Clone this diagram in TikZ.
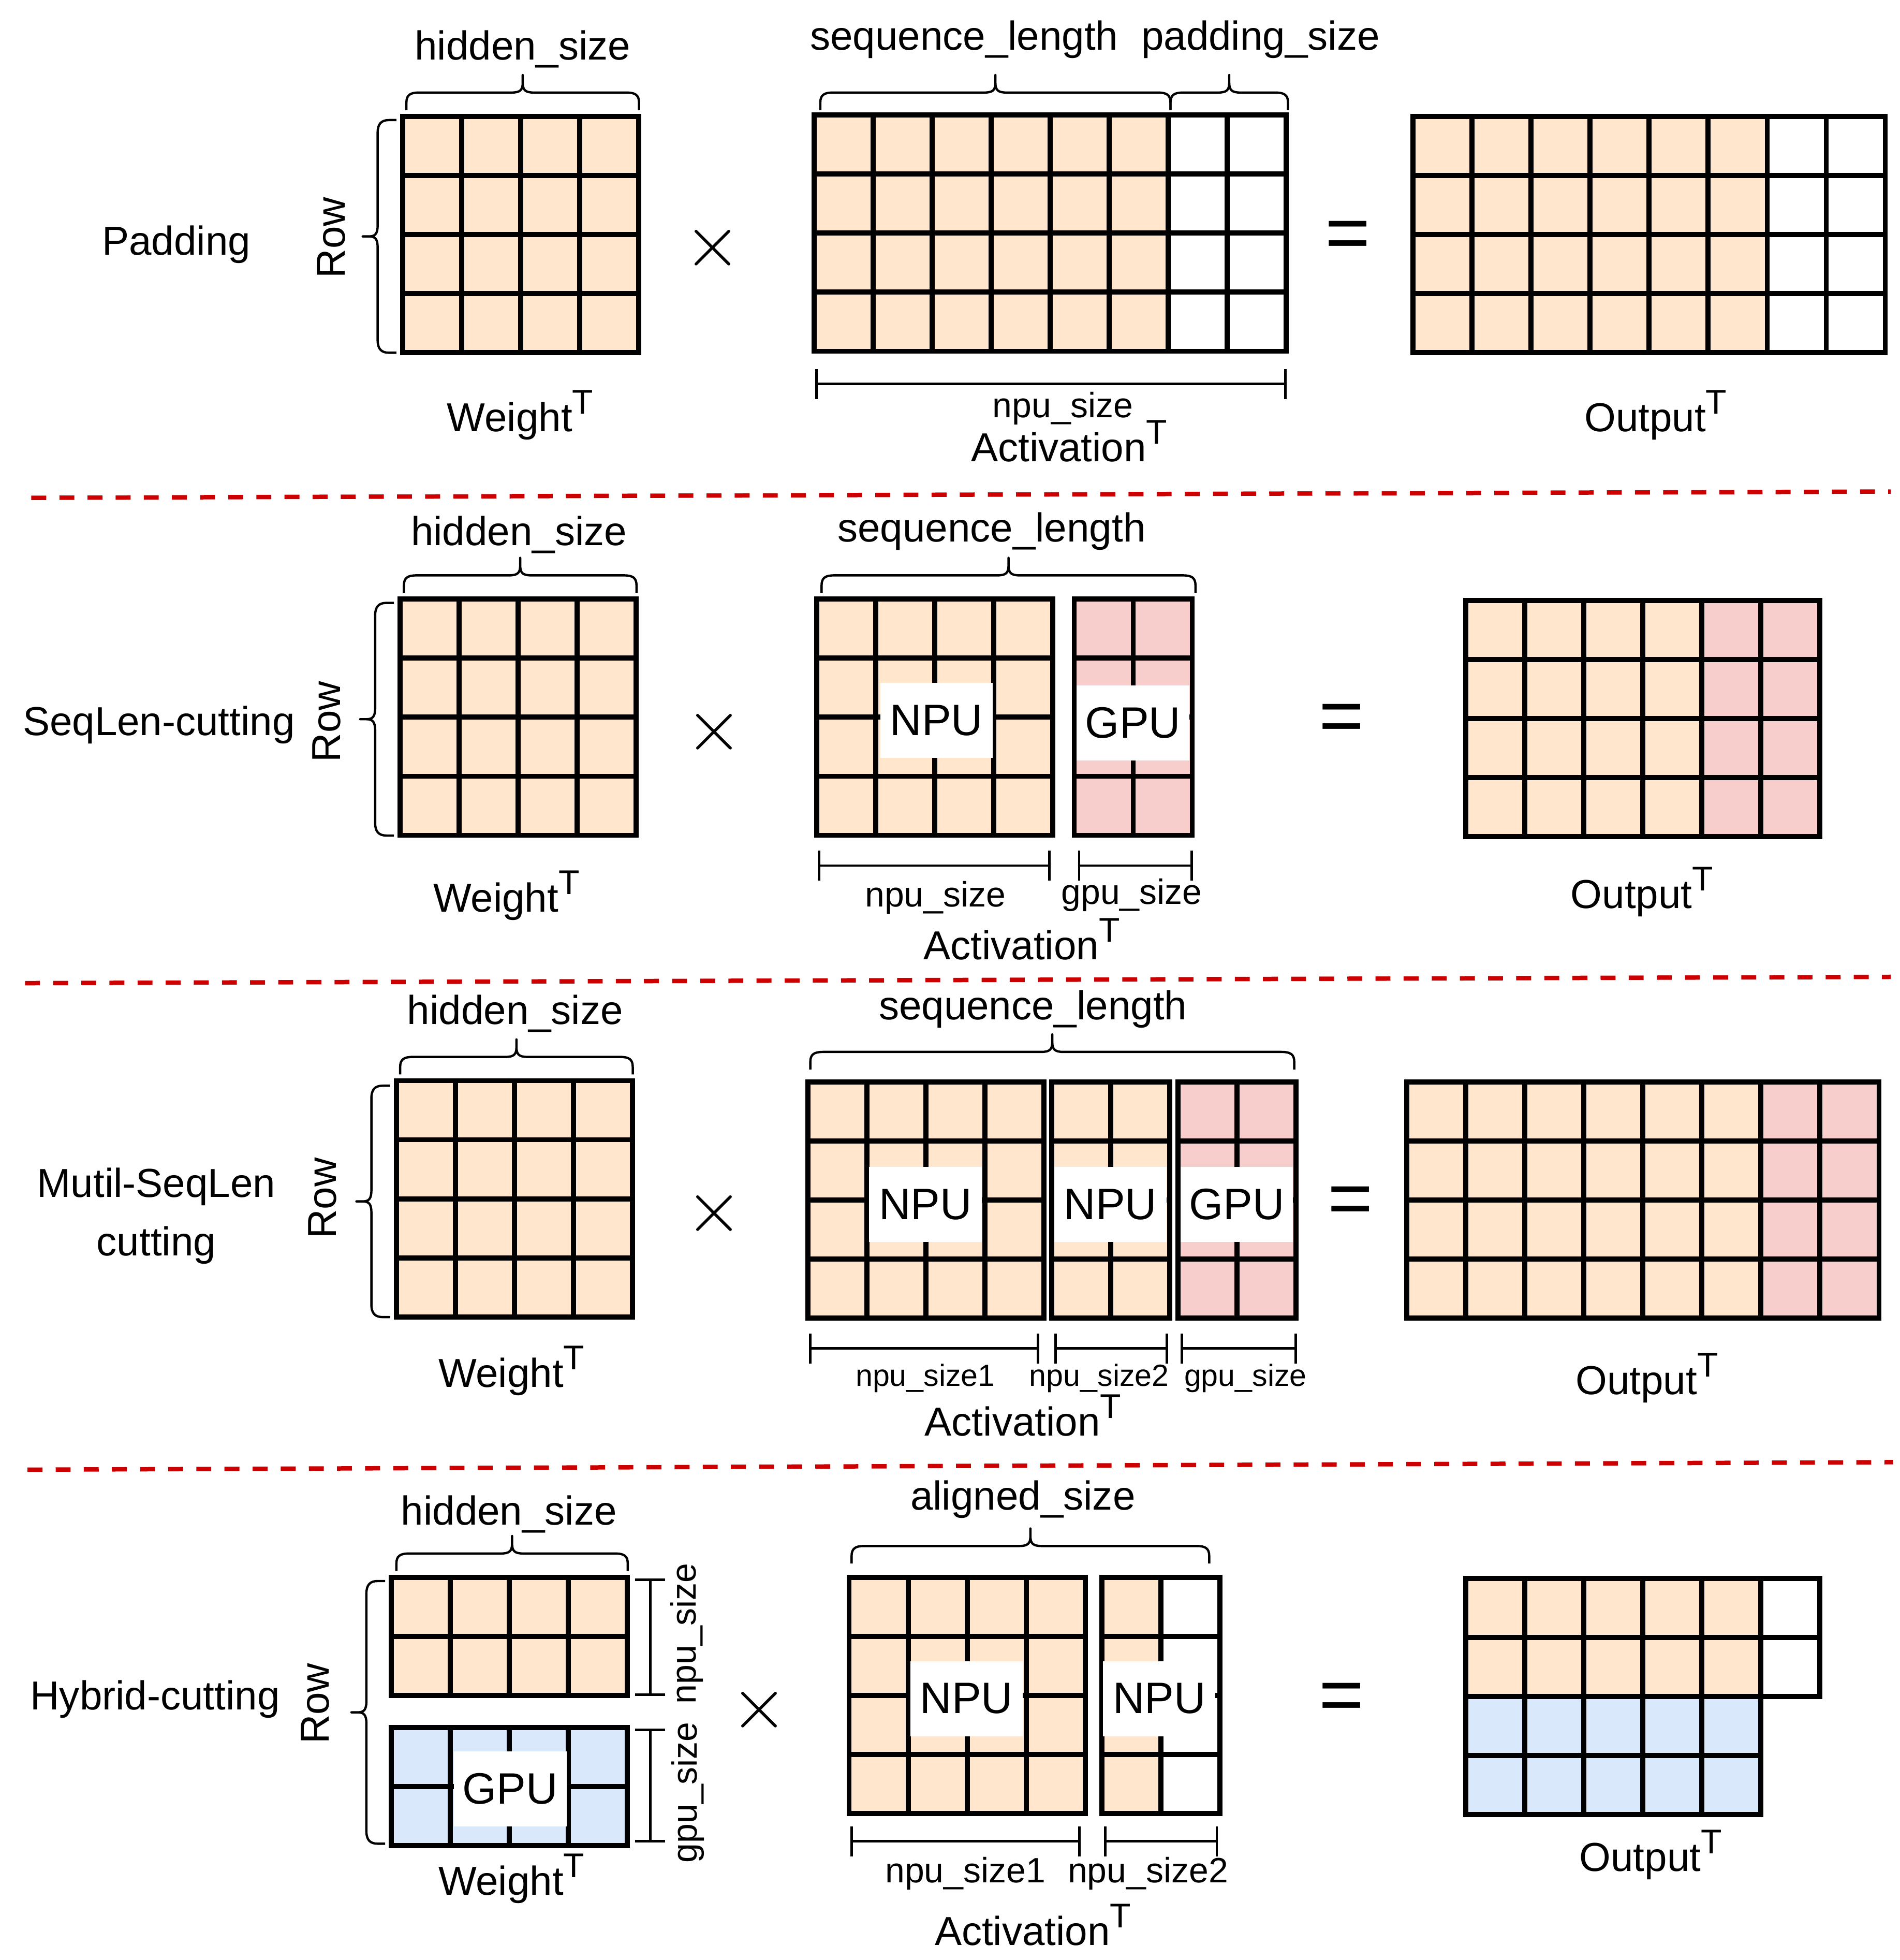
\RequirePackage{fix-cm}
\documentclass[tikz,border=0pt]{standalone}
\usepackage{fontspec}
\setmainfont{Liberation Sans}
\usepackage{tikz}
\usetikzlibrary{math}
\usetikzlibrary{arrows.meta}

\definecolor{npuorange}{HTML}{FFE6CC}
\definecolor{gpupink}{HTML}{F8CECC}
\definecolor{gpublue}{HTML}{DAE8FC}
\definecolor{cutred}{HTML}{CC0000}

% raised T of the transposed matrices
\newcommand{\tsup}{\raisebox{10pt}{\fontsize{19.5}{22}\selectfont T}}

% grid of cells: x0, y0, columns, rows, fill
\newcommand{\cellmat}[5]{%
  \foreach \ci in {1,...,#3}{
    \foreach \rj in {1,...,#4}{
      \draw[cellbox, fill=#5] ({#1+(\ci-1)*\cs},{#2+(\rj-1)*\cs}) rectangle ++(\cs,\cs);
    }
  }
}

% curly brace above a matrix: x left, x right, y of the feet
\newcommand{\topbrace}[3]{%
  \pgfmathsetmacro{\bmid}{(#1+#2)/2}
  \draw[brace] (#1,#3) -- (#1,#3-6)
    .. controls (#1,#3-12) and (#1+3,#3-14) .. (#1+10,#3-14)
    -- (\bmid-9,#3-14)
    .. controls (\bmid-2,#3-14) and (\bmid,#3-16) .. (\bmid,#3-22)
    -- (\bmid,#3-28) -- (\bmid,#3-22)
    .. controls (\bmid,#3-16) and (\bmid+2,#3-14) .. (\bmid+9,#3-14)
    -- (#2-10,#3-14)
    .. controls (#2-3,#3-14) and (#2,#3-12) .. (#2,#3-6)
    -- (#2,#3);
}

% curly brace left of a matrix: x of the feet, y top, y bottom
\newcommand{\leftbrace}[3]{%
  \pgfmathsetmacro{\bmid}{(#2+#3)/2}
  \draw[brace] (#1,#2) -- (#1-6,#2)
    .. controls (#1-12,#2) and (#1-15,#2+3) .. (#1-15,#2+10)
    -- (#1-15,\bmid-9)
    .. controls (#1-15,\bmid-2) and (#1-17,\bmid) .. (#1-22,\bmid)
    -- (#1-27,\bmid) -- (#1-22,\bmid)
    .. controls (#1-17,\bmid) and (#1-15,\bmid+2) .. (#1-15,\bmid+9)
    -- (#1-15,#3-10)
    .. controls (#1-15,#3-3) and (#1-12,#3) .. (#1-6,#3)
    -- (#1,#3);
}

\begin{document}
\begin{tikzpicture}[x=0.025cm, y=-0.025cm,
  cellbox/.style={draw=black, line width=2.9pt},
  brace/.style={draw=black, line width=1.3pt, line join=round},
  dimline/.style={draw=black, line width=1.4pt, {Bar[width=0.6cm]}-{Bar[width=0.6cm]}},
  cutline/.style={draw=cutred, line width=2.5pt, dash pattern=on 8.5pt off 7.5pt},
  txt/.style={font=\fontsize{23}{27}\selectfont, inner sep=0pt, anchor=base},
  lblsmall/.style={font=\fontsize{20}{24}\selectfont, inner sep=0pt, anchor=base},
  lbltiny/.style={font=\fontsize{17.4}{21}\selectfont, inner sep=0pt, anchor=base},
  rowlbl/.style={font=\fontsize{23}{27}\selectfont, inner sep=0pt, rotate=90},
  hwbox/.style={fill=white, font=\fontsize{25}{30}\selectfont, minimum width=2.25cm, minimum height=1.5cm, inner sep=0pt},
  timessign/.style={font=\fontsize{42}{46}\selectfont, inner sep=0pt},
  eqsign/.style={font=\fontsize{44}{48}\selectfont, inner sep=0pt},
]

  \useasboundingbox (0,0) rectangle (1519,1567);

  \tikzmath{
    \cs = 47.2; % side of one cell
  }

  % ================= Padding =================
  \cellmat{322}{93}{4}{4}{npuorange}
  \cellmat{651}{92}{6}{4}{npuorange}
  \cellmat{651+6*\cs}{92}{2}{4}{white}
  \cellmat{1130}{93}{6}{4}{npuorange}
  \cellmat{1130+6*\cs}{93}{2}{4}{white}

  \topbrace{325}{511}{88}
  \topbrace{656}{936}{88}
  \topbrace{936}{1030}{88}
  \leftbrace{317}{96}{282}
  \draw[dimline] (652,307) -- (1029,307);

  \node[txt] (pName) at (141,204) {Padding};
  \node[rowlbl] (pRow) at (265,190) {Row};
  \node[txt] (pHidden) at (418,48) {hidden\_size};
  \node[txt] (pSeq) at (771,40) {sequence\_length};
  \node[txt] (pPad) at (1008,40) {padding\_size};
  \node[txt] (pWeight) at (416,345) {Weight\tsup};
  \node[lblsmall] (pNpu) at (850,334) {npu\_size};
  \node[txt] (pAct) at (855,369) {Activation\tsup};
  \node[txt] (pOut) at (1324,345) {Output\tsup};
  \node[timessign] (pTimes) at (570,198) {$\times$};
  \node[eqsign] (pEq) at (1078,192) {=};

  \draw[cutline] (25,398) -- (1512,393);

  % ================= SeqLen-cutting =================
  \cellmat{320}{479}{4}{4}{npuorange}
  \cellmat{653}{479}{4}{4}{npuorange}
  \cellmat{859}{479}{2}{4}{gpupink}
  \cellmat{1172}{480}{4}{4}{npuorange}
  \cellmat{1172+4*\cs}{480}{2}{4}{gpupink}

  \topbrace{323}{509}{474}
  \topbrace{657}{956}{474}
  \leftbrace{315}{482}{668}
  \draw[dimline] (654,692) -- (840,692);
  \draw[dimline] (862,692) -- (954,692);

  \node[hwbox] (sNpu) at (749,576) {NPU};
  \node[hwbox] (sGpu) at (906,578) {GPU};

  \node[txt] (sName) at (127,588) {SeqLen-cutting};
  \node[rowlbl] (sRow) at (261,577) {Row};
  \node[txt] (sHidden) at (415,436) {hidden\_size};
  \node[txt] (sSeq) at (793,433) {sequence\_length};
  \node[lblsmall] (sNpuSize) at (748,725) {npu\_size};
  \node[lblsmall] (sGpuSize) at (905,723) {gpu\_size};
  \node[txt] (sAct) at (817,767) {Activation\tsup};
  \node[txt] (sWeight) at (405,729) {Weight\tsup};
  \node[txt] (sOut) at (1313,726) {Output\tsup};
  \node[timessign] (sTimes) at (571,585) {$\times$};
  \node[eqsign] (sEq) at (1073,578) {=};

  \draw[cutline] (20,786) -- (1512,781);

  % ================= Mutil-SeqLen cutting =================
  \cellmat{317}{864}{4}{4}{npuorange}
  \cellmat{646}{865}{4}{4}{npuorange}
  \cellmat{841}{865}{2}{4}{npuorange}
  \cellmat{942}{865}{2}{4}{gpupink}
  \cellmat{1125}{865}{6}{4}{npuorange}
  \cellmat{1125+6*\cs}{865}{2}{4}{gpupink}

  \topbrace{320}{506}{859}
  \topbrace{648}{1035}{855}
  \leftbrace{312}{868}{1053}
  \draw[dimline] (647,1078) -- (831,1078);
  \draw[dimline] (843,1078) -- (934,1078);
  \draw[dimline] (944,1078) -- (1037,1078);

  \node[hwbox] (mNpuA) at (740,963) {NPU};
  \node[hwbox] (mNpuB) at (888,963) {NPU};
  \node[hwbox] (mGpu) at (989,963) {GPU};

  \node[txt] (mNameA) at (125,957) {Mutil-SeqLen};
  \node[txt] (mNameB) at (125,1004) {cutting};
  \node[rowlbl] (mRow) at (258,958) {Row};
  \node[txt] (mHidden) at (412,819) {hidden\_size};
  \node[txt] (mSeq) at (826,815) {sequence\_length};
  \node[lbltiny] (mNpuSizeA) at (740,1108) {npu\_size1};
  \node[lbltiny] (mNpuSizeB) at (879,1108) {npu\_size2};
  \node[lbltiny] (mGpuSize) at (996,1108) {gpu\_size};
  \node[txt] (mAct) at (818,1148) {Activation\tsup};
  \node[txt] (mWeight) at (409,1109) {Weight\tsup};
  \node[txt] (mOut) at (1317,1115) {Output\tsup};
  \node[timessign] (mTimes) at (571,970) {$\times$};
  \node[eqsign] (mEq) at (1080,964) {=};

  \draw[cutline] (22,1175) -- (1514,1169);

  % ================= Hybrid-cutting =================
  \cellmat{313}{1261}{4}{2}{npuorange}
  \cellmat{313}{1381}{4}{2}{gpublue}
  \cellmat{679}{1261}{4}{4}{npuorange}
  \cellmat{881}{1261}{1}{4}{npuorange}
  \cellmat{881+\cs}{1261}{1}{4}{white}
  \cellmat{1172}{1262}{5}{2}{npuorange}
  \cellmat{1172+5*\cs}{1262}{1}{2}{white}
  \cellmat{1172}{1262+2*\cs}{5}{2}{gpublue}

  \topbrace{317}{502}{1256}
  \topbrace{681}{967}{1250}
  \leftbrace{308}{1264}{1474}
  \draw[dimline] (520,1262) -- (520,1356);
  \draw[dimline] (520,1382) -- (520,1473);
  \draw[dimline] (680,1472) -- (864,1472);
  \draw[dimline] (883,1472) -- (974,1472);

  \node[hwbox] (hGpu) at (408,1430) {GPU};
  \node[hwbox] (hNpuA) at (773,1358) {NPU};
  \node[hwbox] (hNpuB) at (927,1358) {NPU};

  \node[txt] (hName) at (124,1367) {Hybrid-cutting};
  \node[rowlbl] (hRow) at (252,1362) {Row};
  \node[txt] (hHidden) at (407,1219) {hidden\_size};
  \node[txt] (hAligned) at (818,1207) {aligned\_size};
  \node[lblsmall, anchor=center, rotate=90] (hNpuSize) at (549,1306) {npu\_size};
  \node[lblsmall, anchor=center, rotate=90] (hGpuSize) at (550,1433) {gpu\_size};
  \node[lblsmall] (hNpuSizeA) at (772,1505) {npu\_size1};
  \node[lblsmall] (hNpuSizeB) at (918,1505) {npu\_size2};
  \node[txt] (hAct) at (826,1555) {Activation\tsup};
  \node[txt] (hWeight) at (409,1515) {Weight\tsup};
  \node[txt] (hOut) at (1320,1496) {Output\tsup};
  \node[timessign] (hTimes) at (607,1367) {$\times$};
  \node[eqsign] (hEq) at (1073,1361) {=};

\end{tikzpicture}
\end{document}
